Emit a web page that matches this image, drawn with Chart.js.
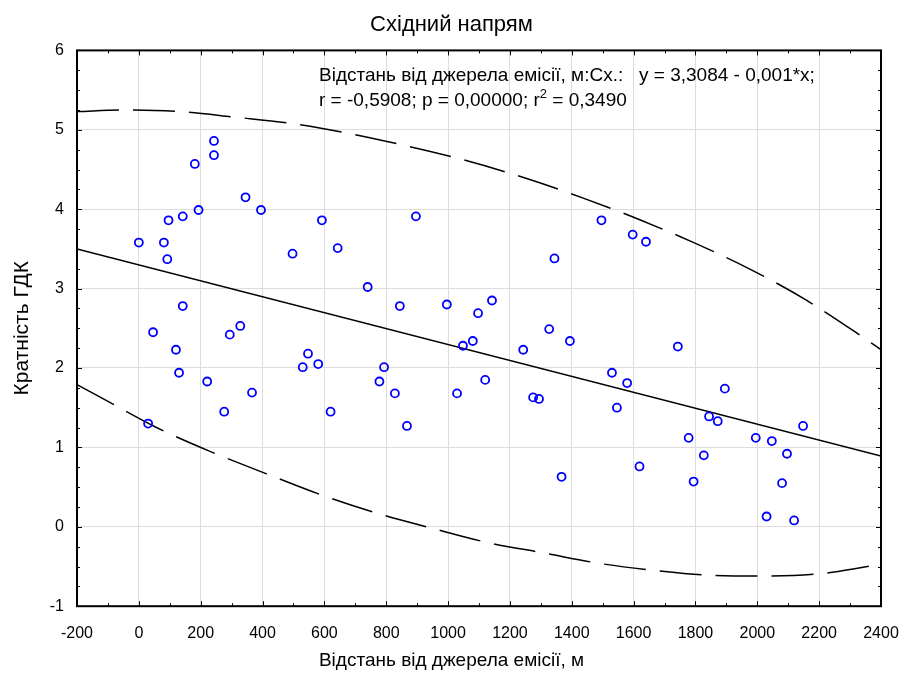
<!DOCTYPE html>
<html>
<head>
<meta charset="utf-8">
<script src="https://cdn.jsdelivr.net/npm/chart.js@4"></script>
<style>
  body { margin: 0; background: #fff; }
</style>
</head>
<body>
<canvas id="gdkChart" width="903" height="679"></canvas>
<script>
// Дані: відстань від джерела (м) і кратність ГДК
const distX = [0, 30, 46, 81, 92, 96, 120, 130, 142, 142, 181, 193, 221, 243, 243, 276, 294, 328, 345, 366,
  395, 497, 530, 547, 580, 592, 620, 643, 740, 778, 793, 828, 844, 867, 896, 996, 1029, 1048, 1080, 1097,
  1120, 1142, 1243, 1275, 1294, 1327, 1344, 1367, 1394, 1496, 1530, 1546, 1579, 1597, 1619, 1640, 1743, 1778, 1794, 1827,
  1844, 1872, 1895, 1995, 2030, 2047, 2080, 2096, 2119, 2148];
const gdkY = [3.58, 1.30, 2.45, 3.58, 3.37, 3.86, 2.23, 1.94, 3.91, 2.78, 4.57, 3.99, 1.83, 4.86, 4.68, 1.45, 2.42, 2.53, 4.15, 1.69,
  3.99, 3.44, 2.01, 2.18, 2.05, 3.86, 1.45, 3.51, 3.02, 1.83, 2.01, 1.68, 2.78, 1.27, 3.91, 2.80, 1.68, 2.28, 2.34, 2.69,
  1.85, 2.85, 2.23, 1.63, 1.61, 2.49, 3.38, 0.63, 2.34, 3.86, 1.94, 1.50, 1.81, 3.68, 0.76, 3.59, 2.27, 1.12, 0.57, 0.90,
  1.39, 1.33, 1.74, 1.12, 0.13, 1.08, 0.55, 0.92, 0.08, 1.27];

// Лінія регресії
const regX = [-200, 2400];
const regY = [3.50, 0.89];

// Межі (пунктир)
const upX = [-200, -45, 133, 310, 494, 672, 747, 1032, 1259, 1437, 1618, 1800, 1979, 2156, 2337, 2400];
const upY = [5.23, 5.25, 5.23, 5.16, 5.08, 4.96, 4.90, 4.64, 4.38, 4.14, 3.87, 3.57, 3.24, 2.86, 2.40, 2.23];
const loX = [-200, -128, 52, 230, 411, 591, 771, 950, 1130, 1310, 1488, 1669, 1846, 2030, 2208, 2342, 2400];
const loY = [1.79, 1.64, 1.26, 0.95, 0.67, 0.40, 0.17, -0.02, -0.20, -0.33, -0.46, -0.55, -0.61, -0.62, -0.59, -0.51, -0.47];

const toXY = (xs, ys) => xs.map((v, i) => ({ x: v, y: ys[i] }));

const FONT = "'Liberation Sans', Arial, sans-serif";
Chart.defaults.font.family = FONT;
Chart.defaults.color = '#000';

// Рамка, внутрішні засічки і підпис рівняння
const frameTicks = {
  id: 'frameTicks',
  afterDraw(chart) {
    const { ctx, chartArea: a, scales: { x, y } } = chart;
    ctx.save();
    ctx.strokeStyle = '#000';
    ctx.lineWidth = 1;
    ctx.beginPath();
    for (let v = -200; v <= 2400; v += 100) {
      const px = Math.round(x.getPixelForValue(v)) + 0.5;
      const len = v % 200 === 0 ? 5 : 3;
      ctx.moveTo(px, a.bottom); ctx.lineTo(px, a.bottom - len);
      ctx.moveTo(px, a.top); ctx.lineTo(px, a.top + len);
    }
    for (let v = -1; v <= 6; v += 0.25) {
      const py = Math.round(y.getPixelForValue(v)) + 0.5;
      const len = Number.isInteger(v) ? 5 : 3;
      ctx.moveTo(a.left, py); ctx.lineTo(a.left + len, py);
      ctx.moveTo(a.right, py); ctx.lineTo(a.right - len, py);
    }
    ctx.stroke();
    ctx.lineWidth = 2;
    ctx.strokeRect(a.left, a.top, a.right - a.left, a.bottom - a.top);

    ctx.fillStyle = '#000';
    ctx.textBaseline = 'alphabetic';
    ctx.font = '19px ' + FONT;
    const tx = a.left + 242;
    ctx.fillText('Відстань від джерела емісії, м:Сх.:', tx, a.top + 31);
    ctx.fillText('y = 3,3084 - 0,001*x;', a.left + 562, a.top + 31);
    const s = 'r = -0,5908; p = 0,00000; r';
    ctx.fillText(s, tx, a.top + 56);
    const w = ctx.measureText(s).width;
    ctx.font = '13px ' + FONT;
    ctx.fillText('2', tx + w, a.top + 48);
    const w2 = ctx.measureText('2').width;
    ctx.font = '19px ' + FONT;
    ctx.fillText(' = 0,3490', tx + w + w2, a.top + 56);
    ctx.restore();
  }
};

const ctx = document.getElementById('gdkChart').getContext('2d');
new Chart(ctx, {
  type: 'scatter',
  data: {
    datasets: [
      {
        label: 'Кратність ГДК',
        data: toXY(distX, gdkY),
        pointStyle: 'circle',
        pointRadius: 4,
        pointHoverRadius: 4,
        borderColor: '#0000ff',
        backgroundColor: 'rgba(0,0,0,0)',
        borderWidth: 1.8
      },
      {
        type: 'line',
        data: toXY(regX, regY),
        borderColor: '#000',
        borderWidth: 1.5,
        pointRadius: 0,
        fill: false
      },
      {
        type: 'line',
        data: toXY(upX, upY),
        borderColor: '#000',
        borderWidth: 1.5,
        borderDash: [42, 14],
        cubicInterpolationMode: 'monotone',
        pointRadius: 0,
        fill: false
      },
      {
        type: 'line',
        data: toXY(loX, loY),
        borderColor: '#000',
        borderWidth: 1.5,
        borderDash: [42, 14],
        cubicInterpolationMode: 'monotone',
        pointRadius: 0,
        fill: false
      }
    ]
  },
  options: {
    responsive: false,
    animation: false,
    layout: { padding: 0 },
    plugins: {
      legend: { display: false },
      tooltip: { enabled: false },
      title: {
        display: true,
        text: 'Східний напрям',
        font: { size: 22, weight: 'normal' },
        padding: { top: 12, bottom: 12 }
      },
      subtitle: {
        display: true,
        position: 'bottom',
        text: 'Відстань від джерела емісії, м',
        font: { size: 19 },
        padding: { top: 0, bottom: 7 }
      }
    },
    scales: {
      x: {
        type: 'linear',
        min: -200,
        max: 2400,
        afterFit: s => { s.height = 43; s.paddingRight = 22; },
        ticks: {
          stepSize: 200,
          font: { size: 16 },
          padding: 18,
          maxRotation: 0,
          callback: v => String(v)
        },
        grid: { color: '#dddddd', drawTicks: false },
        border: { display: false }
      },
      y: {
        min: -1,
        max: 6,
        afterFit: s => { s.width = 77; },
        ticks: {
          stepSize: 1,
          font: { size: 16 },
          padding: 13,
          callback: v => String(v)
        },
        grid: { color: '#dddddd', drawTicks: false },
        border: { display: false },
        title: {
          display: true,
          text: 'Кратність ГДК',
          font: { size: 21 },
          padding: { top: 10, bottom: 0 }
        }
      }
    }
  },
  plugins: [frameTicks]
});
</script>
</body>
</html>
